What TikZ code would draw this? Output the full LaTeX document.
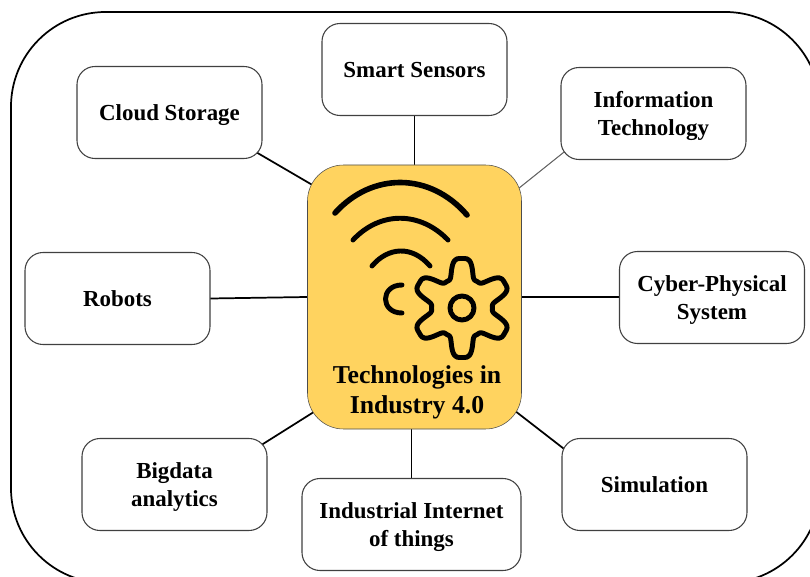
\documentclass[tikz,border=0pt]{standalone}
\usepackage{fontspec}
\setmainfont{Liberation Serif}
\usetikzlibrary{backgrounds}
\definecolor{hubyellow}{HTML}{FFD35F}
\tikzset{
    techbox/.style={draw=black!75, thick, fill=white, rounded corners=13.5pt, align=center, font=\fontsize{17.2}{21}\selectfont\bfseries, inner sep=0pt},
    spoke/.style={draw=black, line width=1.3pt, shorten <=-8pt, shorten >=-12pt},
    icon/.style={draw=black, line width=3.7pt, line cap=round, line join=round},
}
\begin{document}
\begin{tikzpicture}[x=0.75pt, y=-0.75pt]
    \useasboundingbox (0,0) rectangle (810,577);
    \draw[line width=1.3pt, rounded corners=71pt] (11,12) rectangle (820,583);
    \foreach \name/\x/\y/\w/\label in {
            cloud/169.5/112.5/185/Cloud Storage,
            sensors/414.5/69.5/185/Smart Sensors,
            info/653.5/113.5/185/{Information\\Technology},
            robots/117.5/298.5/185/Robots,
            cyber/712/297.5/185/{Cyber-Physical\\System},
            bigdata/174.5/484.5/185/{Bigdata\\analytics},
            iiot/411.5/524.5/219/{Industrial Internet\\of things},
            simulation/654.5/484.5/185/Simulation} {
            \node[techbox, minimum width=\w*0.75pt, minimum height=69pt, text depth=0pt] (\name) at (\x,\y) {\label};
        }
    \node[draw=black!70, fill=hubyellow, rounded corners=27pt, minimum width=160.5pt, minimum height=198pt] (hub) at (414.5,297) {};
    \begin{scope}[on background layer]
        \draw[spoke] (cloud.-25.4) -- (hub.133.5);
        \draw[spoke] (sensors.south) -- (sensors.south |- hub.north);
        \draw[spoke, draw=black!60, line width=0.8pt] (info.204.8) -- (hub.46.8);
        \draw[spoke] (robots.east) -- (hub.west);
        \draw[spoke] (hub.east) -- (hub.east -| cyber.west);
        \draw[spoke] (bigdata.25.3) -- (hub.228.5);
        \draw[spoke] (iiot.north) -- (iiot.north |- hub.south);
        \draw[spoke] (simulation.158) -- (hub.-48.7);
    \end{scope}
    % wifi arcs
    \draw[icon, line width=4.2pt] (335,213) .. controls (372,172) and (430,172) .. (467,215);
    \draw[icon] (353,240) .. controls (380,211) and (420,211) .. (448,240);
    \draw[icon] (372,266) .. controls (388,247) and (412,245) .. (430,266);
    \draw[icon] (402,285) .. controls (380,285) and (380,313) .. (402,313);
    % gear
    \draw[icon] plot[smooth cycle, domain=0:357, samples=120, shift={(462,308)}] (\x:{40-11*cos(6*\x)+1.5*cos(18*\x)});
    \draw[icon] (462,308) circle (12);
    \node[font=\fontsize{19.3}{22.5}\selectfont\bfseries, align=center] (hubtext) at (417,392.5) {Technologies in\\Industry 4.0};
\end{tikzpicture}
\end{document}
